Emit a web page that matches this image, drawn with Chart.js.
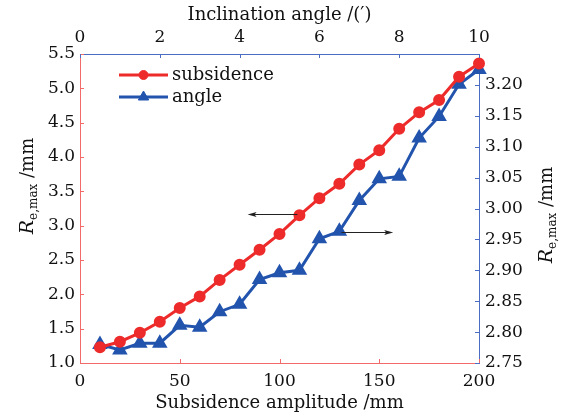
<!DOCTYPE html>
<html>
<head>
<meta charset="utf-8">
<script src="https://cdn.jsdelivr.net/npm/chart.js@4/dist/chart.umd.min.js"></script>
<style>
  html, body { margin: 0; padding: 0; background: #fff; }
  #wrap { width: 561px; height: 417px; }
</style>
</head>
<body>
<div id="wrap"><canvas id="c"></canvas></div>
<script>
// subsidence amplitude (mm), bottom axis
const amplitude = [10, 20, 30, 40, 50, 60, 70, 80, 90, 100, 110, 120, 130, 140, 150, 160, 170, 180, 190, 200];
// R_e,max vs subsidence (left axis)
const subsidenceR = [1.23, 1.31, 1.44, 1.60, 1.80, 1.97, 2.21, 2.43, 2.65, 2.88, 3.15, 3.40, 3.61, 3.89, 4.10, 4.41, 4.65, 4.83, 5.17, 5.36];
// R_e,max vs inclination angle (right axis)
const angleR = [2.780, 2.771, 2.782, 2.782, 2.811, 2.808, 2.833, 2.845, 2.885, 2.896, 2.900, 2.951, 2.963, 3.013, 3.048, 3.052, 3.114, 3.149, 3.201, 3.225];

const red = "#ee2b2b";
const blue = "#2254ad";
const redAxis = "#f36a6a";
const blueAxis = "#4a6cc2";
const FONT = "'DejaVu Serif', serif";

const toPts = (ys) => ys.map((y, i) => ({ x: amplitude[i], y }));

// inward tick marks
const innerTicks = {
  id: "innerTicks",
  afterDraw(chart) {
    const ctx = chart.ctx;
    const a = chart.chartArea;
    const len = 4;
    ctx.save();
    ctx.lineWidth = 1;
    const xs = chart.scales.x, xt = chart.scales.x2, yl = chart.scales.y, yr = chart.scales.y2;
    ctx.strokeStyle = redAxis;
    xs.ticks.forEach((t, i) => {
      const p = Math.round(xs.getPixelForTick(i)) + 0.5;
      ctx.beginPath(); ctx.moveTo(p, a.bottom); ctx.lineTo(p, a.bottom - len); ctx.stroke();
    });
    yl.ticks.forEach((t, i) => {
      const p = Math.round(yl.getPixelForTick(i)) + 0.5;
      ctx.beginPath(); ctx.moveTo(a.left, p); ctx.lineTo(a.left + len, p); ctx.stroke();
    });
    ctx.strokeStyle = blueAxis;
    xt.ticks.forEach((t, i) => {
      const p = Math.round(xt.getPixelForTick(i)) + 0.5;
      ctx.beginPath(); ctx.moveTo(p, a.top); ctx.lineTo(p, a.top + len); ctx.stroke();
    });
    yr.ticks.forEach((t, i) => {
      const p = Math.round(yr.getPixelForTick(i)) + 0.5;
      ctx.beginPath(); ctx.moveTo(a.right, p); ctx.lineTo(a.right - len, p); ctx.stroke();
    });
    ctx.restore();
  }
};

// axis titles with subscript
const axisTitles = {
  id: "axisTitles",
  afterDraw(chart) {
    const ctx = chart.ctx;
    const a = chart.chartArea;
    const cx = (a.left + a.right) / 2;
    ctx.save();
    ctx.fillStyle = "#111";
    ctx.textAlign = "center";
    ctx.textBaseline = "middle";
    ctx.font = "18px " + FONT;
    ctx.fillText("Subsidence amplitude /mm", cx, 403);
    ctx.fillText("Inclination angle /(\u2032)", cx, 15);

    const drawR = (x, y, rot) => {
      ctx.save();
      ctx.translate(x, y);
      ctx.rotate(rot);
      ctx.textAlign = "left";
      ctx.textBaseline = "alphabetic";
      const parts = [
        { t: "R", f: "italic 19px " + FONT, dy: 0 },
        { t: "e,max", f: "12px " + FONT, dy: 4 },
        { t: " /mm", f: "18px " + FONT, dy: 0 }
      ];
      let w = 0;
      parts.forEach(p => { ctx.font = p.f; w += ctx.measureText(p.t).width; });
      let xx = -w / 2;
      parts.forEach(p => {
        ctx.font = p.f;
        ctx.fillText(p.t, xx, 6 + p.dy);
        xx += ctx.measureText(p.t).width;
      });
      ctx.restore();
    };
    drawR(27, 186, -Math.PI / 2);
    drawR(546, 215, -Math.PI / 2);
    ctx.restore();
  }
};

// legend inside plot area, line + marker
const innerLegend = {
  id: "innerLegend",
  afterDatasetsDraw(chart) {
    const ctx = chart.ctx;
    const a = chart.chartArea;
    ctx.save();
    chart.data.datasets.forEach((ds, i) => {
      const y = a.top + 21 + i * 22;
      const x0 = a.left + 39, x1 = a.left + 88;
      ctx.strokeStyle = ds.borderColor;
      ctx.lineWidth = ds.borderWidth;
      ctx.beginPath(); ctx.moveTo(x0, y); ctx.lineTo(x1, y); ctx.stroke();
      ctx.fillStyle = ds.pointBackgroundColor;
      ctx.strokeStyle = ds.pointBorderColor;
      ctx.lineWidth = 1;
      Chart.helpers.drawPoint(ctx, {
        pointStyle: ds.pointStyle, rotation: 0, radius: ds.pointRadius, borderWidth: 1
      }, (x0 + x1) / 2, y);
      ctx.fillStyle = "#111";
      ctx.font = "18px " + FONT;
      ctx.textBaseline = "middle";
      ctx.fillText(ds.label, x1 + 4, y);
    });
    ctx.restore();
  }
};

// black arrows telling which axis each curve belongs to
const arrows = [
  { from: [109, 3.17], to: [84, 3.17], scale: "y" },
  { from: [131, 2.962], to: [157, 2.962], scale: "y2" }
];
const arrowPlugin = {
  id: "arrowPlugin",
  afterDatasetsDraw(chart) {
    const ctx = chart.ctx;
    ctx.save();
    ctx.strokeStyle = "#222";
    ctx.fillStyle = "#222";
    ctx.lineWidth = 1;
    arrows.forEach(ar => {
      const xs = chart.scales.x, ys = chart.scales[ar.scale];
      const x0 = xs.getPixelForValue(ar.from[0]), x1 = xs.getPixelForValue(ar.to[0]);
      const y = Math.round(ys.getPixelForValue(ar.from[1])) + 0.5;
      const d = Math.sign(x1 - x0);
      ctx.beginPath(); ctx.moveTo(x0, y); ctx.lineTo(x1 - d * 6, y); ctx.stroke();
      ctx.beginPath();
      ctx.moveTo(x1, y);
      ctx.lineTo(x1 - d * 9, y - 2.5);
      ctx.lineTo(x1 - d * 7, y);
      ctx.lineTo(x1 - d * 9, y + 2.5);
      ctx.closePath();
      ctx.fill();
    });
    ctx.restore();
  }
};

new Chart(document.getElementById("c"), {
  type: "line",
  data: {
    datasets: [
      {
        label: "subsidence",
        data: toPts(subsidenceR),
        yAxisID: "y",
        borderColor: red,
        backgroundColor: red,
        pointBackgroundColor: red,
        pointBorderColor: red,
        borderWidth: 3,
        pointRadius: 4.5,
        pointStyle: "circle",
        clip: false
      },
      {
        label: "angle",
        data: toPts(angleR),
        yAxisID: "y2",
        borderColor: blue,
        backgroundColor: blue,
        pointBackgroundColor: blue,
        pointBorderColor: blue,
        borderWidth: 3,
        pointRadius: 6,
        pointStyle: "triangle",
        clip: false
      }
    ]
  },
  options: {
    responsive: true,
    maintainAspectRatio: false,
    animation: false,
    layout: { padding: 0 },
    plugins: { legend: { display: false }, tooltip: { enabled: false } },
    scales: {
      x: {
        type: "linear",
        position: "bottom",
        min: 0, max: 200,
        ticks: { stepSize: 50, padding: 8, color: "#111", font: { family: FONT, size: 17 } },
        grid: { display: false, drawTicks: false },
        border: { color: redAxis, width: 1 },
        afterFit(s) { s.height = 54; }
      },
      x2: {
        type: "linear",
        position: "top",
        min: 0, max: 10,
        ticks: { stepSize: 2, padding: 6, color: "#111", font: { family: FONT, size: 17 } },
        grid: { display: false, drawTicks: false },
        border: { color: blueAxis, width: 1 },
        afterFit(s) { s.height = 54; }
      },
      y: {
        position: "left",
        min: 1.0, max: 5.5,
        ticks: {
          stepSize: 0.5, padding: 5, color: "#111", font: { family: FONT, size: 17 },
          callback: v => v.toFixed(1)
        },
        grid: { display: false, drawTicks: false },
        border: { color: redAxis, width: 1 },
        afterFit(s) { s.width = 80; }
      },
      y2: {
        position: "right",
        min: 2.75, max: 3.25,
        ticks: {
          stepSize: 0.05, padding: 6, color: "#111", font: { family: FONT, size: 17 },
          callback: v => (v > 3.245 ? "" : v.toFixed(2))
        },
        grid: { display: false, drawTicks: false },
        border: { color: blueAxis, width: 1 },
        afterFit(s) { s.width = 82; }
      }
    }
  },
  plugins: [innerTicks, axisTitles, innerLegend, arrowPlugin]
});
</script>
</body>
</html>
